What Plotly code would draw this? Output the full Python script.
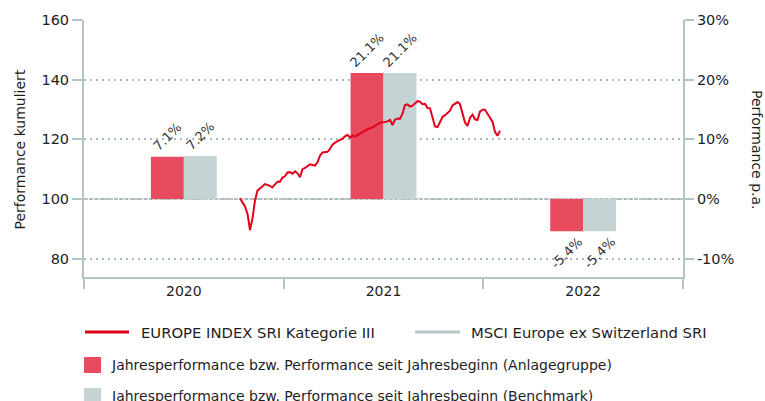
import pandas as pd
import plotly.graph_objects as go

# ---- data -------------------------------------------------------------
years = ["2020", "2021", "2022"]
perf_fund = [0.071, 0.211, -0.054]       # Anlagegruppe, p.a.
perf_bench = [0.072, 0.211, -0.054]      # Benchmark, p.a.

line_start = "2020-02-21"                # weekly index values
index_values = [
    100.2, 99.0, 97.5, 95.0, 89.6, 93.5, 99.5, 102.8, 103.6, 104.2,
    105.0, 104.7, 104.4, 103.9, 104.9, 105.8, 105.8, 107.2, 107.6, 108.9,
    109.0, 108.5, 109.3, 108.6, 107.3, 110.0, 110.4, 111.0, 111.6, 111.4,
    111.2, 112.3, 114.5, 115.6, 115.7, 115.8, 116.8, 118.2, 118.9, 119.4,
    119.8, 120.2, 121.0, 121.5, 120.6, 121.3, 120.9, 121.5, 122.0, 122.4,
    122.9, 123.4, 123.7, 124.0, 124.4, 125.0, 125.6, 125.6, 125.8, 126.0,
    126.5, 124.8, 126.6, 127.0, 126.9, 128.6, 131.5, 131.7, 131.0, 131.3,
    131.9, 132.8, 132.6, 131.8, 131.9, 130.5, 130.4, 127.0, 124.3, 124.1,
    125.8, 127.5, 128.1, 128.7, 129.6, 131.4, 132.0, 132.5, 131.8, 128.5,
    125.6, 124.5, 127.2, 128.3, 126.7, 126.5, 129.3, 129.9, 129.9, 128.6,
    127.3, 125.9, 122.5, 121.2, 122.9,
]
index_ticks = [80, 100, 120, 140, 160]
pct_ticks = [-0.1, 0.0, 0.1, 0.2, 0.3]

name_fund = "EUROPE INDEX SRI Kategorie III"
name_bench = "MSCI Europe ex Switzerland SRI"
name_bar_fund = "Jahresperformance bzw. Performance seit Jahresbeginn (Anlagegruppe)"
name_bar_bench = "Jahresperformance bzw. Performance seit Jahresbeginn (Benchmark)"

# ---- styling ------------------------------------------------------------
RED_LINE = "#e2001a"
RED_BAR = "#e84b5e"
GREY_BAR = "#c4d3d3"
GREY_LINE = "#b8c9c9"
AXIS = "#b2c4c4"
GRID = "#a6bcbb"
TXT = "#1e1e1e"
FONT = "DejaVu Sans"

W, H = 765, 401
ML, MR, MT, MB = 84, 82, 20, 124
PW, PH = W - ML - MR, H - MT - MB


def fx(px):
    return (px - ML) / PW


def fy(py):
    return (H - MB - py) / PH


def pct(v, digits):
    # plain hyphen-minus percent labels
    return f"{v * 100:.{digits}f}%"


dates = pd.date_range(line_start, periods=len(index_values), freq="7D")
# time axis laid over the year categories (2.5 px per week)
t0 = pd.Timestamp(line_start)
x2_range = [t0 - pd.Timedelta(weeks=(240 - ML) / 2.5),
            t0 + pd.Timedelta(weeks=(ML + PW - 240) / 2.5)]

idx_lo, idx_hi = 73.85, 160.0
pct_range = [(idx_lo - 100) / 200, (idx_hi - 100) / 200]

fig = go.Figure()

for vals, col, nm in [(perf_fund, RED_BAR, name_bar_fund),
                      (perf_bench, GREY_BAR, name_bar_bench)]:
    fig.add_trace(go.Bar(
        x=years, y=vals, name=nm, marker=dict(color=col, line=dict(width=0)),
        text=[pct(v, 1) for v in vals], texttemplate="%{text}",
        textposition="outside", textangle=-45, constraintext="none",
        textfont=dict(family=FONT, size=13, color="#333333"),
        cliponaxis=False, showlegend=False,
        xaxis="x", yaxis="y",
    ))

fig.add_trace(go.Scatter(
    x=dates, y=index_values, mode="lines", name=name_fund,
    line=dict(color=RED_LINE, width=2), showlegend=False,
    xaxis="x2", yaxis="y2",
))

fig.update_layout(
    width=W, height=H,
    margin=dict(l=ML, r=MR, t=MT, b=MB),
    paper_bgcolor="white", plot_bgcolor="white",
    font=dict(family=FONT, size=14, color=TXT),
    barmode="group", bargap=0.67, bargroupgap=0,
    showlegend=False,
    xaxis=dict(
        type="category", range=[-0.5, 2.5],
        showline=True, linecolor=AXIS, linewidth=2,
        ticks="outside", tickson="boundaries", ticklen=10,
        tickcolor=AXIS, tickwidth=2, showgrid=False,
        tickfont=dict(family=FONT, size=14, color=TXT),
    ),
    xaxis2=dict(
        type="date", overlaying="x", range=x2_range, visible=False,
    ),
    yaxis=dict(
        side="right", range=pct_range, tickvals=pct_ticks,
        ticktext=[pct(v, 0) for v in pct_ticks],
        showline=True, linecolor=AXIS, linewidth=2,
        ticks="outside", ticklen=9, tickcolor=AXIS, tickwidth=2,
        showgrid=True, gridcolor=GRID, gridwidth=2, griddash="2px,4px",
        zeroline=False,
        tickfont=dict(family=FONT, size=14.5, color=TXT),
    ),
    yaxis2=dict(
        side="left", overlaying="y", range=[idx_lo, idx_hi],
        tickvals=index_ticks,
        showline=True, linecolor=AXIS, linewidth=2,
        ticks="outside", ticklen=10, tickcolor=AXIS, tickwidth=2,
        showgrid=False, zeroline=False,
        tickfont=dict(family=FONT, size=14.5, color=TXT),
    ),
)

# base line at 100 / 0 %
fig.add_shape(type="line", xref="paper", x0=0, x1=1, yref="y2", y0=100, y1=100,
              line=dict(color="#c4c4c4", width=2, dash="4px,1px"), layer="between")

# axis titles
fig.add_annotation(text="Performance kumuliert", xref="paper", yref="paper",
                   x=fx(19.5), y=fy(150), textangle=-90, showarrow=False,
                   xanchor="center", yanchor="middle",
                   font=dict(family=FONT, size=14, color=TXT))
fig.add_annotation(text="Performance p.a.", xref="paper", yref="paper",
                   x=fx(757), y=fy(150), textangle=90, showarrow=False,
                   xanchor="center", yanchor="middle",
                   font=dict(family=FONT, size=14, color=TXT))

# legend
legend_lines = [(85, 129, 139, RED_LINE, name_fund),
                (415, 460, 469, GREY_LINE, name_bench)]
for x0, x1, xt, col, nm in legend_lines:
    fig.add_shape(type="line", xref="paper", yref="paper",
                  x0=fx(x0), x1=fx(x1), y0=fy(332), y1=fy(332),
                  line=dict(color=col, width=3))
    fig.add_annotation(text=nm, xref="paper", yref="paper", x=fx(xt), y=fy(332),
                       xanchor="left", yanchor="middle", showarrow=False,
                       font=dict(family=FONT, size=14.8, color=TXT))

legend_boxes = [(357, 364.5, RED_BAR, name_bar_fund),
                (388, 396, GREY_BAR, name_bar_bench)]
for ytop, yc, col, nm in legend_boxes:
    fig.add_shape(type="rect", xref="paper", yref="paper",
                  x0=fx(84), x1=fx(101), y0=fy(ytop), y1=fy(ytop + 16),
                  fillcolor=col, line=dict(width=0))
    fig.add_annotation(text=nm, xref="paper", yref="paper", x=fx(109), y=fy(yc),
                       xanchor="left", yanchor="middle", showarrow=False,
                       font=dict(family=FONT, size=14, color=TXT))

fig.write_html("out.html")
